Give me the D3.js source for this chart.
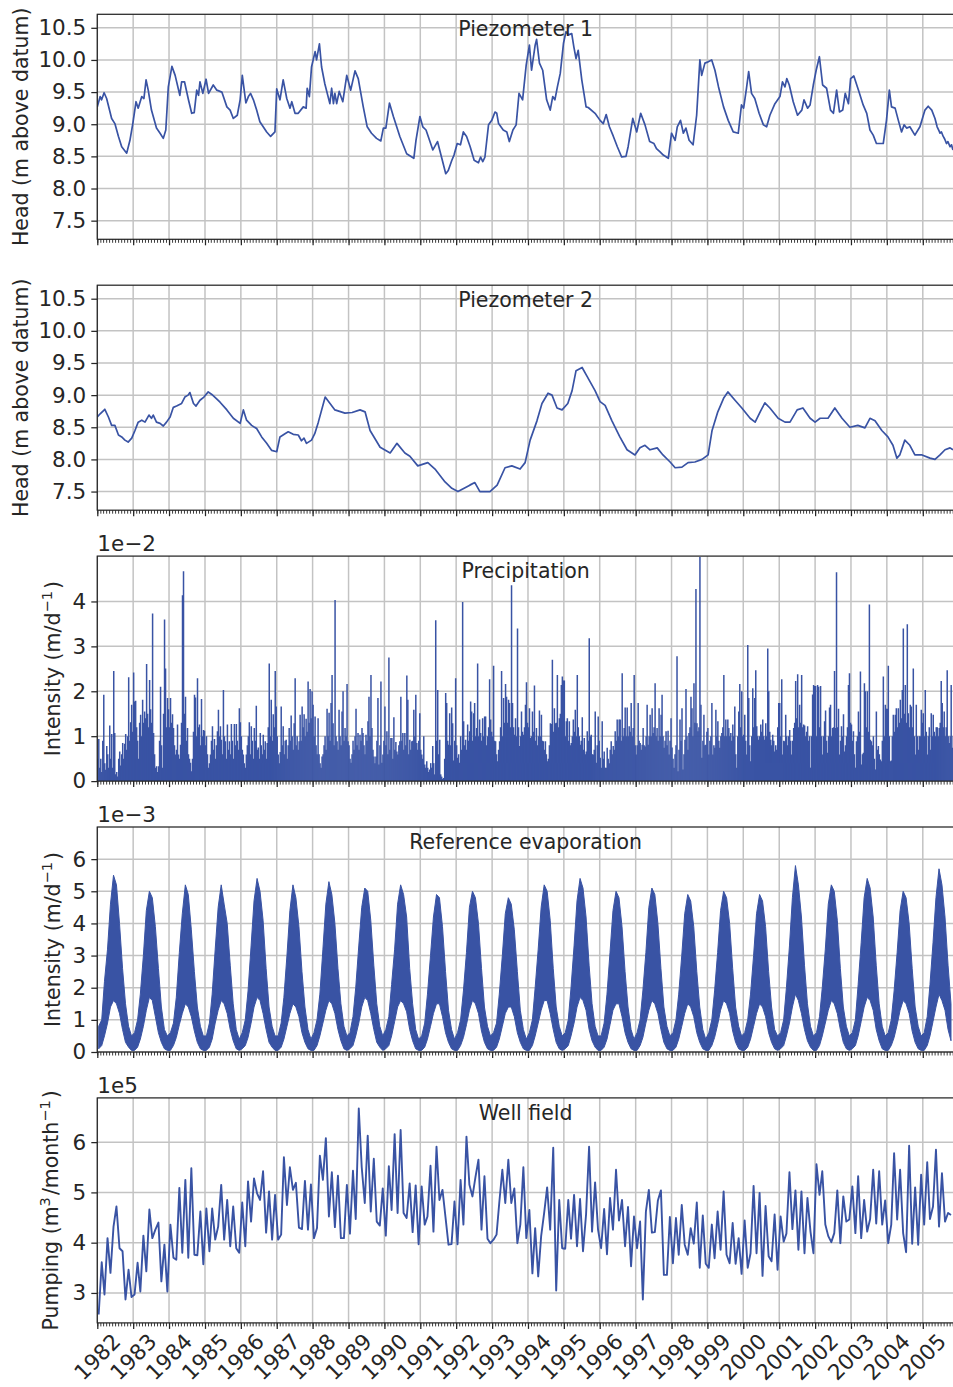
<!DOCTYPE html>
<html>
<head>
<meta charset="utf-8">
<script src="https://cdn.jsdelivr.net/npm/d3@7"></script>
<style>
body { margin: 0; background: #fff; }
text { font-family: "DejaVu Sans", sans-serif; }
</style>
</head>
<body>
<div id="container"></div>
<script>
// ---- data ----
// piezometer heads, [decimal year, m above datum]
var piezo1 = [[1982.00,9.27],[1982.08,9.43],[1982.12,9.38],[1982.19,9.49],[1982.26,9.40],[1982.40,9.09],[1982.49,9.01],[1982.59,8.81],[1982.68,8.65],[1982.82,8.55],[1982.91,8.75],[1982.99,9.01],[1983.08,9.35],[1983.14,9.25],[1983.24,9.43],[1983.30,9.40],[1983.36,9.69],[1983.42,9.53],[1983.51,9.22],[1983.65,8.94],[1983.75,8.86],[1983.84,8.78],[1983.91,8.91],[1983.98,9.58],[1984.08,9.90],[1984.17,9.76],[1984.30,9.45],[1984.35,9.66],[1984.43,9.66],[1984.54,9.38],[1984.63,9.17],[1984.70,9.18],[1984.77,9.53],[1984.82,9.45],[1984.86,9.66],[1984.94,9.48],[1985.03,9.70],[1985.10,9.48],[1985.23,9.61],[1985.33,9.53],[1985.47,9.50],[1985.61,9.27],[1985.70,9.22],[1985.79,9.09],[1985.90,9.14],[1985.98,9.38],[1986.04,9.76],[1986.14,9.33],[1986.21,9.43],[1986.27,9.48],[1986.35,9.38],[1986.44,9.22],[1986.53,9.04],[1986.72,8.88],[1986.83,8.81],[1986.95,8.88],[1987.00,9.55],[1987.09,9.38],[1987.18,9.69],[1987.28,9.40],[1987.37,9.25],[1987.42,9.35],[1987.51,9.17],[1987.60,9.17],
  [1987.74,9.27],[1987.82,9.25],[1987.85,9.56],[1987.91,9.43],[1987.97,9.89],[1988.07,10.13],[1988.11,10.00],[1988.19,10.25],[1988.25,9.89],[1988.34,9.63],[1988.48,9.32],[1988.53,9.56],[1988.58,9.32],[1988.62,9.48],[1988.67,9.32],[1988.74,9.51],[1988.84,9.35],[1988.95,9.76],[1989.06,9.53],[1989.18,9.83],[1989.27,9.71],[1989.41,9.27],[1989.52,8.96],[1989.64,8.86],[1989.78,8.78],[1989.90,8.74],[1989.97,8.94],[1990.04,8.94],[1990.14,9.33],[1990.25,9.12],[1990.43,8.81],[1990.62,8.54],[1990.82,8.47],[1990.88,8.75],[1990.99,9.12],[1991.07,8.96],[1991.16,8.91],[1991.35,8.60],[1991.48,8.73],[1991.60,8.47],[1991.71,8.23],[1991.78,8.28],[1991.88,8.44],[1991.94,8.52],[1992.03,8.70],[1992.12,8.68],[1992.20,8.88],[1992.29,8.81],[1992.39,8.65],[1992.50,8.44],[1992.62,8.40],[1992.68,8.49],[1992.74,8.42],[1992.80,8.49],[1992.90,8.99],[1992.99,9.06],[1993.08,9.19],[1993.13,9.17],[1993.18,9.01],[1993.31,8.91],[1993.41,8.88],[1993.48,8.73],[1993.58,8.91],[1993.67,8.99],[1993.75,9.48],[1993.85,9.38],[1993.95,9.92],[1994.04,10.23],[1994.10,9.84],[1994.20,10.23],[1994.24,10.32],[1994.32,9.95],[1994.41,9.84],[1994.52,9.38],[1994.62,9.22],[1994.69,9.43],[1994.75,9.38],[1994.82,9.58],[1994.90,9.79],[1994.99,10.26],[1995.06,10.44],[1995.13,10.39],[1995.22,10.41],[1995.28,10.20],[1995.34,10.02],[1995.40,10.15],[1995.50,9.69],[1995.62,9.27],[1995.68,9.26],[1995.87,9.17],
  [1996.01,9.06],[1996.10,9.01],[1996.18,9.15],[1996.27,8.96],[1996.38,8.81],[1996.49,8.65],[1996.61,8.49],[1996.73,8.50],[1996.79,8.65],[1996.92,9.09],[1997.03,8.88],[1997.14,9.17],[1997.26,8.99],[1997.39,8.73],[1997.51,8.70],[1997.58,8.62],[1997.68,8.57],[1997.77,8.52],[1997.91,8.47],[1998.00,8.86],[1998.10,8.75],[1998.16,8.96],[1998.25,9.06],[1998.33,8.86],[1998.40,8.94],[1998.49,8.75],[1998.60,8.68],[1998.70,9.14],[1998.79,10.00],[1998.84,9.76],[1998.93,9.95],[1999.02,9.97],[1999.12,10.00],[1999.21,9.84],[1999.31,9.58],[1999.45,9.27],[1999.58,9.06],[1999.72,8.88],[1999.86,8.86],[1999.95,9.30],[2000.01,9.25],[2000.09,9.56],[2000.15,9.82],[2000.23,9.48],[2000.32,9.40],[2000.44,9.17],[2000.56,8.99],[2000.65,8.96],[2000.74,9.14],[2000.88,9.32],[2001.02,9.43],[2001.09,9.66],[2001.16,9.58],[2001.21,9.71],[2001.28,9.61],[2001.39,9.35],[2001.51,9.14],[2001.63,9.22],[2001.69,9.38],[2001.79,9.25],[2001.86,9.30],[2001.95,9.61],[2002.03,9.84],[2002.12,10.05],[2002.21,9.61],[2002.32,9.56],[2002.43,9.22],[2002.51,9.17],[2002.60,9.53],[2002.68,9.19],[2002.77,9.22],[2002.84,9.48],[2002.93,9.32],[2002.99,9.71],[2003.08,9.75],[2003.21,9.53],[2003.34,9.30],[2003.44,9.17],[2003.53,8.91],[2003.62,8.83],[2003.71,8.70],[2003.81,8.70],[2003.90,8.70],[2003.99,9.06],[2004.07,9.53],[2004.13,9.27],[2004.23,9.25],[2004.32,9.06],[2004.41,8.88],[2004.48,8.99],[2004.55,8.94],[2004.64,8.96],[2004.78,8.83],[2004.92,8.96],[2005.06,9.22],[2005.15,9.28],[2005.25,9.22],[2005.34,9.09],[2005.40,8.96],[2005.45,8.90],[2005.48,8.86],[2005.52,8.88],[2005.57,8.81],[2005.61,8.77],[2005.66,8.70],[2005.70,8.73],[2005.76,8.65],[2005.80,8.68],[2005.84,8.60]];

var piezo2 = [[1982.00,8.66],[1982.08,8.71],[1982.21,8.78],[1982.31,8.66],[1982.40,8.53],[1982.49,8.53],[1982.59,8.38],[1982.68,8.35],[1982.77,8.30],[1982.86,8.27],[1982.96,8.33],[1983.05,8.45],[1983.14,8.58],[1983.24,8.61],[1983.33,8.58],[1983.44,8.69],[1983.51,8.64],[1983.56,8.69],[1983.65,8.58],[1983.75,8.56],[1983.84,8.52],[1983.93,8.58],[1984.03,8.66],[1984.12,8.81],[1984.21,8.83],[1984.35,8.87],[1984.44,8.97],[1984.53,9.00],[1984.58,9.04],[1984.68,8.87],[1984.75,8.83],[1984.86,8.92],[1984.97,8.97],[1985.09,9.05],[1985.19,9.01],[1985.31,8.95],[1985.42,8.89],[1985.61,8.77],[1985.79,8.64],[1985.98,8.56],[1986.07,8.77],[1986.16,8.61],[1986.30,8.53],[1986.44,8.48],[1986.58,8.35],[1986.72,8.25],[1986.86,8.14],[1987.00,8.12],[1987.09,8.35],[1987.23,8.40],[1987.32,8.43],[1987.46,8.39],[1987.60,8.38],[1987.69,8.29],[1987.76,8.33],[1987.83,8.25],[1987.97,8.30],[1988.06,8.40],[1988.16,8.58],
  [1988.35,8.97],[1988.62,8.77],[1988.90,8.72],[1989.10,8.73],[1989.32,8.77],[1989.46,8.74],[1989.60,8.45],[1989.88,8.19],[1990.16,8.10],[1990.35,8.25],[1990.57,8.10],[1990.71,8.05],[1990.93,7.90],[1991.21,7.95],[1991.41,7.85],[1991.69,7.65],[1991.88,7.55],[1992.05,7.50],[1992.38,7.60],[1992.52,7.64],[1992.66,7.50],[1992.94,7.50],[1993.14,7.60],[1993.36,7.87],[1993.55,7.90],[1993.78,7.85],[1993.92,7.95],[1994.06,8.30],[1994.25,8.60],[1994.39,8.87],[1994.56,9.03],[1994.67,9.00],[1994.81,8.80],[1994.95,8.77],[1995.11,8.87],[1995.23,9.07],[1995.34,9.38],[1995.51,9.43],[1995.64,9.30],[1995.87,9.07],[1996.01,8.90],[1996.15,8.84],[1996.34,8.60],[1996.56,8.35],[1996.76,8.15],[1996.98,8.07],[1997.12,8.18],[1997.26,8.22],[1997.40,8.15],[1997.60,8.18],[1997.76,8.07],[1997.96,7.96],[1998.10,7.87],[1998.29,7.88],[1998.46,7.95],[1998.65,7.96],[1998.85,8.00],[1999.02,8.07],[1999.13,8.45],[1999.29,8.74],[1999.46,8.96],[1999.57,9.05],[1999.77,8.92],[1999.96,8.80],[2000.19,8.64],[2000.33,8.58],[2000.47,8.74],[2000.60,8.88],[2000.74,8.80],[2000.97,8.64],[2001.16,8.58],[2001.30,8.58],[2001.50,8.77],[2001.66,8.80],[2001.86,8.64],[2002.00,8.58],[2002.14,8.64],[2002.36,8.64],[2002.55,8.80],[2002.75,8.64],[2002.97,8.50],[2003.19,8.53],[2003.39,8.49],[2003.53,8.64],[2003.67,8.60],[2003.86,8.45],[2004.03,8.35],[2004.17,8.22],[2004.28,8.02],[2004.36,8.07],[2004.50,8.30],[2004.64,8.22],[2004.78,8.07],[2004.98,8.07],[2005.20,8.02],[2005.34,8.00],[2005.48,8.07],[2005.62,8.15],[2005.76,8.18],[2005.84,8.15]];

// precipitation, max per dekad (36 per year) from Jan 1982, in 1e-2 m/d
var precip = [
  0.5,0.94,0.3,0.5,0.2,0.9,1.92,0.4,0.25,0.78,0.6,0.3,1.24,0.5,1.05,0.3,2.45,1.07,0.15,0.2,0.1,0.5,0.66,0.35,0.6,0.85,0.5,0.83,1.05,0.7,1.0,2.31,0.9,1.31,1.7,1.1,
  2.42,1.77,1.79,1.2,0.9,0.5,1.3,1.48,1.0,1.81,1.3,1.55,1.4,2.61,1.5,1.2,2.25,1.6,1.3,3.73,1.07,0.6,0.3,0.33,0.2,0.33,0.9,2.1,0.8,0.3,1.5,3.60,2.51,1.2,1.85,1.6,
  1.2,1.85,1.3,1.49,1.18,0.8,0.59,0.7,1.26,0.59,0.5,0.81,1.3,4.14,4.67,1.5,1.88,0.9,1.18,0.6,0.5,0.41,0.22,0.5,1.1,1.92,1.86,1.0,2.29,1.2,1.26,0.8,1.83,1.0,1.14,1.12,
  0.8,1.0,0.6,0.3,0.4,0.59,0.9,1.22,0.7,0.94,0.5,0.8,1.11,1.59,1.0,1.22,0.92,0.6,2.03,1.0,0.89,0.5,1.26,0.7,0.89,0.6,1.27,0.9,0.5,1.27,0.8,1.27,0.9,0.7,1.62,1.31,
  1.0,0.7,0.59,0.4,0.3,0.59,0.8,1.0,1.31,0.6,1.22,0.9,0.5,1.18,0.9,1.68,0.7,0.75,0.5,1.07,0.8,0.6,1.03,0.7,0.89,0.5,0.85,1.2,2.62,1.0,1.81,0.9,1.49,1.2,2.45,1.66,
  1.0,0.59,0.4,0.65,1.66,0.8,1.22,0.6,0.9,0.92,0.5,0.8,1.18,0.9,1.46,1.0,0.7,1.29,2.29,0.8,1.0,0.7,0.89,1.48,0.9,1.66,1.2,1.49,1.0,1.39,1.1,2.22,1.3,2.05,1.4,2.0,
  1.70,1.0,1.44,0.8,0.6,1.4,0.6,0.4,0.3,0.55,0.6,0.8,1.0,0.7,1.61,1.0,1.52,0.9,1.74,2.36,1.29,0.8,4.03,1.0,0.89,0.7,1.59,1.0,0.8,1.55,2.0,0.9,1.18,1.0,2.16,0.89,
  0.8,0.5,0.41,0.6,0.9,0.7,1.0,1.61,0.8,1.07,0.7,1.03,0.9,1.18,1.07,0.8,0.6,1.03,0.9,1.33,1.88,1.0,2.36,1.18,0.7,0.55,0.4,0.55,0.9,1.85,0.37,0.8,2.22,0.41,0.59,0.9,
  1.66,0.8,1.11,0.6,2.75,0.7,0.96,0.96,0.5,1.42,0.7,0.87,0.66,0.59,0.8,0.89,1.88,0.9,1.07,0.7,1.07,0.8,2.35,1.81,0.6,0.92,0.7,0.89,0.9,1.59,1.0,1.92,0.85,0.7,0.9,1.51,
  0.7,0.59,0.5,1.0,0.37,0.3,0.44,0.3,0.2,0.26,0.4,0.3,0.78,0.4,0.15,3.58,0.9,2.03,0.6,0.92,0.15,0.1,0.05,0.07,0.5,1.96,1.74,0.9,0.81,1.51,0.8,1.64,1.29,0.46,0.9,2.29,
  0.8,0.52,0.6,0.41,1.0,0.7,3.99,1.33,0.8,0.92,0.7,1.26,0.9,1.11,1.77,1.55,0.9,1.51,1.74,1.0,1.18,2.62,1.0,1.37,1.07,0.9,1.4,1.0,1.44,1.44,0.8,1.0,1.2,2.27,1.37,1.1,
  1.0,2.57,0.9,0.89,0.6,0.44,0.7,0.89,1.2,2.45,1.0,1.85,1.3,2.16,1.88,1.3,1.81,1.74,1.2,4.36,1.74,1.2,1.03,1.4,1.0,3.40,1.2,0.78,1.0,1.55,1.1,1.03,1.2,1.70,2.20,1.3,
  1.2,1.62,0.96,1.0,1.55,1.1,2.13,0.9,1.18,0.8,1.0,1.57,1.0,1.48,0.9,0.89,0.7,0.89,0.6,0.44,0.5,0.8,1.29,1.27,2.70,1.1,1.62,1.29,1.3,2.36,1.2,1.4,1.5,2.14,2.33,2.24,
  2.24,1.0,1.33,1.4,0.9,1.33,0.8,0.85,1.0,1.37,1.1,1.59,1.0,2.36,1.2,1.0,0.81,0.9,1.42,0.7,0.96,0.6,0.66,1.11,0.9,3.18,1.0,1.03,0.6,0.59,0.7,1.55,0.41,0.8,1.44,0.9,
  0.52,0.3,1.33,0.5,0.66,0.3,0.3,0.74,0.5,0.4,0.7,0.89,0.6,0.78,0.7,1.11,0.9,1.37,1.0,1.37,1.37,0.9,2.4,1.0,1.18,1.64,1.0,1.64,1.0,1.22,1.1,1.74,1.0,1.18,2.36,0.8,
  0.59,0.8,1.74,0.9,0.85,0.7,0.81,1.18,0.8,0.77,1.0,1.70,0.81,1.0,1.48,1.0,1.62,1.07,1.2,2.18,1.0,1.18,0.9,1.62,1.0,1.48,1.92,1.0,0.74,0.9,1.11,0.8,1.12,0.59,0.9,1.40,
  0.75,0.5,0.3,0.6,0.8,2.78,0.22,0.7,1.37,0.9,1.62,0.26,0.6,0.92,2.05,1.0,0.7,1.07,1.2,1.88,1.62,1.0,2.18,1.3,4.28,1.29,1.11,1.2,4.99,1.70,0.52,0.9,1.48,0.8,0.81,1.1,
  1.18,0.59,0.9,1.0,1.74,0.59,0.8,0.74,1.59,1.0,1.33,0.9,0.74,1.0,1.07,1.2,2.36,1.0,1.37,1.0,1.37,1.18,1.0,1.07,0.9,1.26,1.0,1.66,0.6,0.3,1.0,1.55,2.16,1.2,2.0,1.0,
  1.03,1.48,0.9,0.59,3.03,1.85,0.8,0.44,1.0,2.07,1.2,1.85,2.47,1.22,1.0,0.92,1.0,1.26,1.1,1.37,1.0,0.92,1.29,1.0,2.95,2.0,1.1,0.92,0.8,1.03,0.9,0.66,0.8,0.70,1.2,1.74,
  1.74,1.0,2.27,0.59,0.9,0.89,1.48,1.0,0.8,1.0,1.14,0.9,0.59,0.9,1.18,1.3,2.23,1.4,2.38,1.2,1.70,1.3,2.36,1.2,1.26,1.24,1.0,1.1,1.22,0.9,1.0,0.3,1.0,1.93,2.14,2.12,
  2.12,1.0,2.14,2.1,1.2,2.12,1.0,0.59,1.0,1.33,1.57,0.9,0.63,1.0,1.64,1.70,1.0,1.18,1.2,2.45,1.18,4.65,1.2,1.61,0.59,0.9,1.22,1.0,1.49,0.66,0.8,1.0,1.2,2.14,2.4,1.3,
  1.26,0.9,1.11,0.6,0.3,0.89,1.0,1.55,1.1,2.44,0.37,0.6,0.63,2.18,2.0,1.2,2.0,1.1,3.93,0.92,0.89,0.8,1.0,0.5,0.26,1.55,0.7,0.78,0.6,0.48,0.44,0.9,2.33,1.0,1.70,1.61,
  1.61,2.57,1.0,0.44,0.46,1.0,1.48,1.1,1.48,1.62,1.2,1.62,1.3,1.81,1.4,2.03,3.40,1.5,2.14,1.3,3.49,1.51,1.2,1.70,1.66,1.2,2.51,1.0,0.59,1.70,1.0,0.70,1.0,1.0,1.59,1.3,
  1.51,1.0,2.03,1.1,0.59,1.0,1.2,0.7,1.51,1.0,1.48,1.1,1.0,1.2,1.2,1.0,1.18,1.3,2.23,1.74,1.2,1.55,1.0,1.2,2.47,1.0,0.85,1.0,2.14,0.74,1.0
];

// reference evaporation, monthly upper / lower envelope from Jan 1982, in 1e-3 m/d
var evapHi = [
  0.8,1.0,2.2,3.2,4.6,5.5,5.2,4.0,2.6,1.5,0.8,0.5,
  0.6,1.0,1.8,3.0,4.4,5.0,4.8,3.9,2.6,1.4,0.7,0.5,
  0.6,0.9,1.7,3.1,4.3,5.2,4.9,3.8,2.5,1.4,0.8,0.5,
  0.5,0.9,1.8,3.2,4.5,5.2,4.6,4.0,2.7,1.5,0.7,0.4,
  0.6,1.0,1.9,3.3,4.7,5.4,5.0,4.1,2.6,1.4,0.8,0.5,
  0.5,0.9,1.7,3.0,4.4,5.2,4.8,3.9,2.5,1.4,0.7,0.4,
  0.6,1.0,1.8,3.2,4.6,5.3,4.9,4.0,2.6,1.5,0.8,0.5,
  0.6,1.1,2.0,3.3,4.5,5.1,5.0,4.1,2.7,1.5,0.8,0.5,
  0.7,1.1,2.1,3.2,4.6,5.2,4.9,4.2,2.6,1.5,0.7,0.4,
  0.5,0.9,1.8,3.0,4.2,4.9,4.8,3.9,2.5,1.3,0.7,0.4,
  0.6,1.0,1.9,3.1,4.5,5.0,4.8,4.0,2.6,1.4,0.8,0.5,
  0.6,0.9,1.8,3.0,4.3,4.8,4.6,3.8,2.5,1.3,0.7,0.4,
  0.6,1.0,2.0,3.2,4.5,5.2,5.0,4.1,2.6,1.4,0.8,0.5,
  0.6,1.0,2.0,3.3,4.7,5.4,5.1,4.2,2.7,1.5,0.8,0.5,
  0.5,0.9,1.8,3.1,4.4,5.0,4.8,3.9,2.5,1.4,0.7,0.4,
  0.6,1.0,1.9,3.1,4.5,5.1,4.9,4.0,2.6,1.4,0.8,0.5,
  0.6,1.0,1.8,3.0,4.3,4.9,4.7,3.9,2.5,1.4,0.7,0.4,
  0.6,1.0,1.9,3.1,4.4,5.0,4.8,4.0,2.6,1.4,0.8,0.5,
  0.6,1.0,1.8,3.0,4.3,4.9,4.7,3.9,2.5,1.4,0.7,0.5,
  0.6,1.0,2.0,3.3,4.8,5.8,5.2,4.2,2.7,1.5,0.8,0.5,
  0.6,1.1,2.0,3.2,4.6,5.2,5.0,4.1,2.6,1.4,0.8,0.5,
  0.6,1.0,2.1,3.4,4.8,5.4,5.1,4.2,2.7,1.5,0.8,0.5,
  0.6,1.0,1.9,3.1,4.4,5.0,4.8,4.0,2.6,1.4,0.8,0.5,
  0.6,1.1,2.1,3.4,4.8,5.7,5.2,4.2,2.7,1.5
];
var evapLo = [
  0.10,0.20,0.50,0.90,1.40,1.60,1.50,1.20,0.70,0.30,0.15,0.05,
  0.05,0.15,0.40,0.80,1.30,1.70,1.60,1.10,0.60,0.30,0.10,0.05,
  0.05,0.20,0.45,0.85,1.20,1.50,1.40,1.10,0.65,0.30,0.10,0.05,
  0.05,0.15,0.40,0.90,1.30,1.60,1.50,1.20,0.70,0.35,0.10,0.05,
  0.10,0.20,0.45,0.90,1.40,1.70,1.60,1.20,0.70,0.30,0.15,0.05,
  0.05,0.15,0.40,0.80,1.20,1.50,1.40,1.10,0.60,0.30,0.10,0.05,
  0.05,0.20,0.50,0.90,1.30,1.60,1.50,1.20,0.70,0.35,0.10,0.05,
  0.10,0.20,0.50,0.90,1.40,1.70,1.60,1.20,0.70,0.30,0.15,0.05,
  0.10,0.20,0.50,0.95,1.40,1.60,1.50,1.25,0.70,0.35,0.10,0.05,
  0.05,0.15,0.40,0.80,1.20,1.50,1.50,1.10,0.60,0.30,0.10,0.05,
  0.05,0.20,0.45,0.85,1.30,1.60,1.50,1.20,0.65,0.30,0.10,0.05,
  0.05,0.15,0.40,0.80,1.20,1.40,1.40,1.10,0.60,0.30,0.10,0.05,
  0.05,0.20,0.50,0.90,1.30,1.60,1.60,1.20,0.70,0.30,0.10,0.05,
  0.10,0.20,0.50,0.90,1.40,1.70,1.60,1.30,0.70,0.35,0.15,0.05,
  0.05,0.15,0.40,0.85,1.30,1.50,1.50,1.10,0.60,0.30,0.10,0.05,
  0.05,0.20,0.45,0.90,1.30,1.60,1.50,1.20,0.70,0.30,0.10,0.05,
  0.05,0.15,0.40,0.80,1.20,1.50,1.40,1.10,0.60,0.30,0.10,0.05,
  0.05,0.20,0.45,0.85,1.30,1.60,1.50,1.20,0.65,0.30,0.10,0.05,
  0.05,0.15,0.40,0.80,1.20,1.50,1.40,1.10,0.60,0.30,0.10,0.05,
  0.10,0.20,0.50,0.90,1.40,1.80,1.60,1.20,0.70,0.35,0.15,0.05,
  0.05,0.20,0.50,0.90,1.30,1.60,1.50,1.20,0.70,0.30,0.10,0.05,
  0.10,0.20,0.50,0.95,1.40,1.70,1.60,1.30,0.70,0.35,0.10,0.05,
  0.05,0.20,0.45,0.85,1.30,1.60,1.50,1.20,0.65,0.30,0.10,0.05,
  0.05,0.20,0.50,0.95,1.40,1.80,1.60,1.30,0.70,0.35
];

// well field pumping, monthly from Jan 1982, in 1e5 m3/month
var pumping = [
  2.57,3.61,2.97,4.09,3.40,4.32,4.72,3.89,3.83,2.87,3.46,2.92,
  2.97,3.60,3.03,4.14,3.43,4.66,4.09,4.26,4.40,3.23,3.96,3.03,
  4.36,3.70,3.66,5.09,3.80,5.25,3.70,5.48,3.76,3.75,4.62,3.57,
  4.68,3.83,4.68,4.06,4.32,5.15,4.06,4.85,3.93,4.72,3.89,3.80,
  4.80,3.93,5.22,4.42,5.28,4.98,4.85,5.42,4.20,5.02,4.06,4.95,
  4.06,4.16,5.70,4.75,5.50,5.05,5.19,4.30,
  4.27,5.23,4.26,5.16,4.09,4.29,5.73,5.25,6.08,4.52,5.40,4.31,5.33,4.09,4.09,5.15,4.18,5.43,4.47,6.67,5.50,4.79,6.13,4.62,5.67,4.42,4.34,5.08,4.14,5.52,4.65,6.16,4.59,6.24,4.59,4.49,5.18,4.21,5.14,3.97,5.12,4.36,4.52,5.53,4.22,5.91,4.85,5.05,4.50,3.96,3.97,4.82,3.97,5.25,4.36,6.11,5.15,4.92,5.30,5.65,4.26,5.32,4.08,3.99,4.06,4.16,4.80,5.45,4.79,5.65,4.79,5.08,3.99,4.36,5.50,4.09,4.65,3.39,4.29,3.33,4.13,4.60,5.10,4.26,5.89,3.05,4.85,3.89,3.88,4.85,4.08,4.95,3.93,4.87,3.83,4.56,5.91,4.22,5.20,4.26,3.89,4.67,3.77,4.89,4.26,5.45,4.44,
  4.85,3.93,4.71,3.53,4.52,3.89,4.42,2.87,4.62,5.05,4.20,4.21,4.84,5.04,3.36,3.36,4.51,3.59,4.49,3.76,4.75,3.96,3.76,4.29,3.98,4.80,3.50,4.54,3.58,3.50,4.36,3.69,4.62,3.86,5.02,3.76,3.59,4.39,3.58,4.09,3.38,4.44,3.50,3.79,5.13,3.79,4.99,3.34,4.73,3.73,3.63,4.56,3.46,4.52,4.02,4.18,5.40,4.27,5.04,3.86,5.02,3.79,4.89,4.22,3.79,5.56,4.95,5.42,4.36,4.13,4.01,4.19,5.04,3.99,4.92,4.42,4.46,5.12,4.19,5.32,4.09,4.85,4.22,4.47,5.45,4.38,5.42,4.36,4.84,3.99,4.36,5.78,4.46,5.45,4.19,3.81,5.93,3.98,5.10,3.96,5.35,4.36,5.60,4.47,4.72,5.85,4.32,5.38,4.42,4.59,4.55
];

var yearTicks = d3.range(1982, 2006);
var headTicks = [7.5, 8.0, 8.5, 9.0, 9.5, 10.0, 10.5],
    precipTicks = [0, 1, 2, 3, 4],
    evapTicks = [0, 1, 2, 3, 4, 5, 6],
    pumpTicks = [3, 4, 5, 6];

// ---- layout ----
var W = 953, H = 1387,
    left = 97.3, right = 954,
    panelTop = [14.3, 285.2, 556.1, 827.0, 1097.9],
    panelH = 225,
    blue = '#3953a4', gridCol = '#c3c3c3', ink = '#262626',
    tickFont = 21.5;

var svg = d3.select('body').select('#container').append('svg')
    .attr('width', W)
    .attr('height', H);

function yearDate(t) {
    var y = Math.floor(t), s = new Date(y, 0, 1), e = new Date(y + 1, 0, 1);
    return new Date(+s + (t - y) * (e - s));
}

var x = d3.scaleTime()
    .domain([new Date(1982, 0, 1), yearDate(2005.87)])
    .range([left, right]);

function panel(i, yDomain, yTicks, fmt, title, label, labelX, offsetText) {
    var top = panelTop[i], bottom = top + panelH;
    var y = d3.scaleLinear().domain(yDomain).range([bottom, top]);
    var g = svg.append('g');

    // grid
    g.selectAll('line.vg').data(yearTicks).join('line')
        .attr('x1', d => x(new Date(d, 0, 1))).attr('x2', d => x(new Date(d, 0, 1)))
        .attr('y1', top).attr('y2', bottom)
        .attr('stroke', gridCol).attr('stroke-width', 1.5);
    g.selectAll('line.hg').data(yTicks).join('line')
        .attr('x1', left).attr('x2', right)
        .attr('y1', d => y(d)).attr('y2', d => y(d))
        .attr('stroke', gridCol).attr('stroke-width', 1.5);

    svg.append('clipPath').attr('id', 'clip' + i)
      .append('rect').attr('x', left).attr('y', top).attr('width', right - left).attr('height', panelH);
    var plot = svg.append('g').attr('clip-path', 'url(#clip' + i + ')');

    // title
    svg.append('text')
        .attr('x', (left + right) / 2).attr('y', top + 22)
        .attr('text-anchor', 'middle').attr('font-size', 20.5).attr('fill', ink)
        .text(title);

    // y axis
    var ya = svg.append('g').attr('transform', 'translate(' + left + ',0)')
        .call(d3.axisLeft(y).tickValues(yTicks).tickSize(6).tickPadding(5).tickSizeOuter(0).tickFormat(fmt));
    ya.select('.domain').remove();
    ya.attr('font-size', tickFont).attr('font-family', '"DejaVu Sans", sans-serif').attr('color', ink);
    ya.selectAll('line').attr('stroke-width', 1.25);

    // x ticks, monthly minor + yearly major
    var xm = svg.append('g').attr('transform', 'translate(0,' + bottom + ')')
        .call(d3.axisBottom(x).ticks(d3.timeMonth).tickSize(3.5).tickSizeOuter(0).tickFormat(''));
    xm.select('.domain').remove();
    xm.attr('color', ink).selectAll('line').attr('stroke-width', 0.9);
    var xa = svg.append('g').attr('transform', 'translate(0,' + bottom + ')')
        .call(d3.axisBottom(x).ticks(d3.timeYear).tickSize(6).tickSizeOuter(0).tickFormat(''));
    xa.select('.domain').remove();
    xa.attr('color', ink).selectAll('line').attr('stroke-width', 1.25);

    // spines
    svg.append('rect')
        .attr('x', left).attr('y', top).attr('width', right - left).attr('height', panelH)
        .attr('fill', 'none').attr('stroke', ink).attr('stroke-width', 1.25);

    // y label (may contain superscripts)
    var lt = svg.append('text')
        .attr('transform', 'translate(' + labelX + ',' + (top + panelH / 2) + ') rotate(-90)')
        .attr('text-anchor', 'middle').attr('font-size', 20.5).attr('fill', ink);
    label.forEach(function (p) {
        if (p.sup) {
            lt.append('tspan').attr('dy', -8).attr('font-size', 14.5).text(p.sup);
            lt.append('tspan').attr('dy', 8).text('\u200a');
        } else {
            lt.append('tspan').text(p.t);
        }
    });

    if (offsetText) {
        svg.append('text')
            .attr('x', left).attr('y', top - 5)
            .attr('font-size', tickFont).attr('fill', ink)
            .text(offsetText);
    }
    return {plot: plot, y: y, top: top, bottom: bottom};
}

var f1 = d3.format('.1f'), f0 = d3.format('d');

// Piezometer 1
var p = panel(0, [7.21, 10.71], headTicks, f1, 'Piezometer 1',
    [{t: 'Head (m above datum)'}], 28);
p.plot.append('path').datum(piezo1)
    .attr('fill', 'none').attr('stroke', blue).attr('stroke-width', 1.7).attr('stroke-linejoin', 'round')
    .attr('d', d3.line().x(d => x(yearDate(d[0]))).y(d => p.y(d[1])));

// Piezometer 2
var p2 = panel(1, [7.21, 10.71], headTicks, f1, 'Piezometer 2',
    [{t: 'Head (m above datum)'}], 28);
p2.plot.append('path').datum(piezo2)
    .attr('fill', 'none').attr('stroke', blue).attr('stroke-width', 1.7).attr('stroke-linejoin', 'round')
    .attr('d', d3.line().x(d => x(yearDate(d[0]))).y(d => p2.y(d[1])));

// Precipitation
var p3 = panel(2, [0, 5.01], precipTicks, f0, 'Precipitation',
    [{t: 'Intensity (m/d'}, {sup: '\u22121'}, {t: ')'}], 60, '1e\u22122');
p3.plot.selectAll('line.pr').data(precip).join('line')
    .attr('x1', (d, k) => x(yearDate(1982 + Math.floor(k / 36) + ((k % 36) + 0.5) / 36)))
    .attr('x2', (d, k) => x(yearDate(1982 + Math.floor(k / 36) + ((k % 36) + 0.5) / 36)))
    .attr('y1', p3.y(0)).attr('y2', d => p3.y(d))
    .attr('stroke', blue).attr('stroke-width', 1.5);

// Reference evaporation
var p4 = panel(3, [0, 7.0], evapTicks, f0, 'Reference evaporation',
    [{t: 'Intensity (m/d'}, {sup: '\u22121'}, {t: ')'}], 60, '1e\u22123');
var evap = evapHi.map((h, k) => ({date: new Date(1982, k, 15), hi: h, lo: evapLo[k]}));
p4.plot.append('path').datum(evap)
    .attr('fill', blue).attr('stroke', blue).attr('stroke-width', 1)
    .attr('d', d3.area().x(d => x(d.date)).y0(d => p4.y(d.lo)).y1(d => p4.y(d.hi)));

// Well field
var p5 = panel(4, [2.404, 6.88], pumpTicks, f0, 'Well field',
    [{t: 'Pumping (m'}, {sup: '3'}, {t: '/month'}, {sup: '\u22121'}, {t: ')'}], 58, '1e5');
p5.plot.append('path').datum(pumping)
    .attr('fill', 'none').attr('stroke', blue).attr('stroke-width', 1.9).attr('stroke-linejoin', 'round')
    .attr('d', d3.line().x((d, k) => x(new Date(1982, k, 15))).y(d => p5.y(d)));

// rotated year labels under the last panel
svg.append('g').selectAll('text').data(yearTicks).join('text')
    .attr('transform', d => 'translate(' + x(new Date(d, 0, 1)) + ',' + (p5.bottom + 34) + ') rotate(-45)')
    .attr('text-anchor', 'middle').attr('dy', '0.35em')
    .attr('font-size', tickFont).attr('fill', ink)
    .text(d => d);
</script>
</body>
</html>
